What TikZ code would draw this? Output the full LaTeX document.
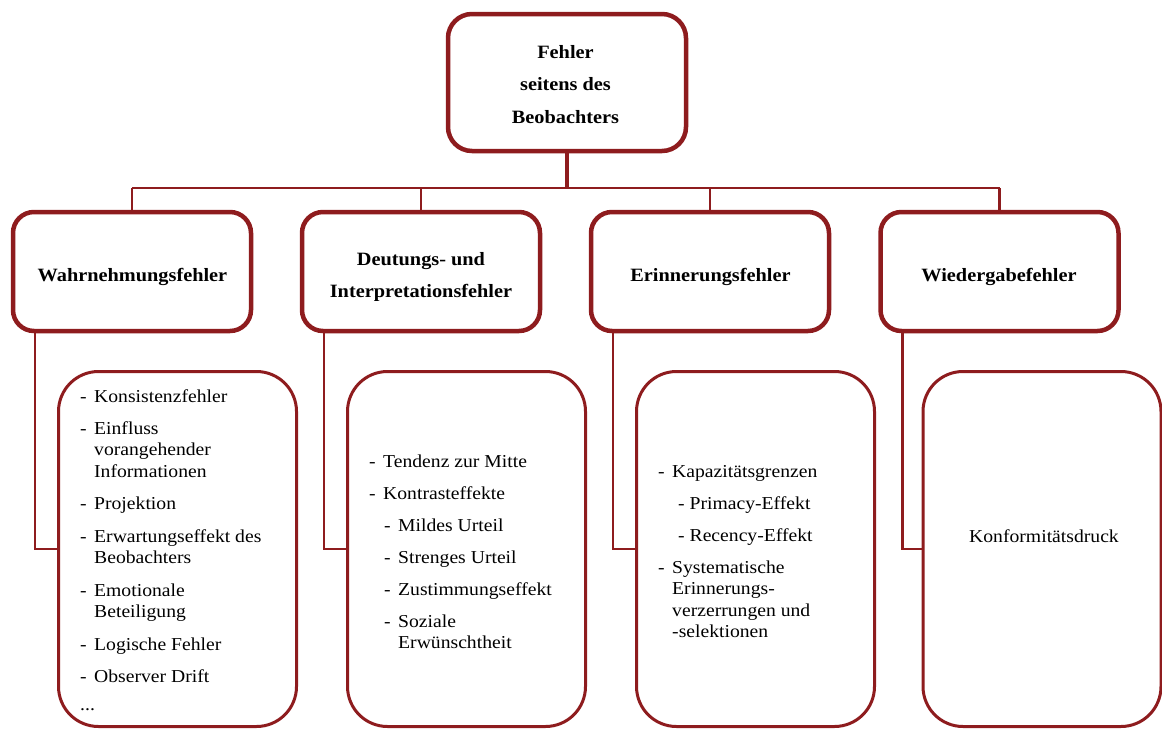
\documentclass[tikz,border=0pt]{standalone}
\usepackage{fontspec}
\setmainfont{Liberation Serif}[FakeStretch=1.08]
\definecolor{frame}{RGB}{142,28,30}

\tikzset{
  headbox/.style={draw=frame, line width=4.5pt, rounded corners=24pt, fill=white,
    minimum width=238pt, minimum height=137pt, inner sep=0pt},
  catbox/.style={draw=frame, line width=4.5pt, rounded corners=21pt, fill=white,
    minimum width=238pt, minimum height=119pt, inner sep=0pt},
  listbox/.style={draw=frame, line width=3pt, rounded corners=40pt, fill=white,
    minimum width=238pt, minimum height=355pt, inner sep=0pt},
  link/.style={draw=frame, line width=2.5pt},
  trunk/.style={draw=frame, line width=3.2pt},
  ttl/.style={inner sep=0pt, anchor=base, font=\bfseries\fontsize{18.8}{22}\selectfont},
  txt/.style={inner sep=0pt, anchor=base west, font=\fontsize{18.2}{22}\selectfont},
}
\newcommand\dash[1]{\makebox[#1][l]{-}}

\begin{document}
\begin{tikzpicture}[x=1pt,y=-1pt]
\useasboundingbox (0,0) rectangle (1162,731);

% root
\node[headbox] (root) at (567,82.5) {};
\node[ttl] (root-a) at (565.5,58) {Fehler};
\node[ttl] (root-b) at (565.5,90.5) {seitens des};
\node[ttl] (root-c) at (565.5,123) {Beobachters};

% categories
\node[catbox] (cat1) at (132,271.5) {};
\node[catbox] (cat2) at (421,271.5) {};
\node[catbox] (cat3) at (710,271.5) {};
\node[catbox] (cat4) at (999.5,271.5) {};
\node[ttl] (cat1-a) at (132.5,281) {Wahrnehmungsfehler};
\node[ttl] (cat2-a) at (421,265) {Deutungs- und};
\node[ttl] (cat2-b) at (421,297) {Interpretationsfehler};
\node[ttl] (cat3-a) at (710.5,281) {Erinnerungsfehler};
\node[ttl] (cat4-a) at (999,281) {Wiedergabefehler};

% detail lists
\node[listbox] (list1) at (177.5,549) {};
\node[listbox] (list2) at (466.5,549) {};
\node[listbox] (list3) at (755.5,549) {};
\node[listbox] (list4) at (1042,549) {};

% list 1
\node[txt] (l1-1) at (80,402) {\dash{14pt}Konsistenzfehler};
\node[txt] (l1-2) at (80,434) {\dash{14pt}Einfluss};
\node[txt] (l1-3) at (94,455.5) {vorangehender};
\node[txt] (l1-4) at (94,477) {Informationen};
\node[txt] (l1-5) at (80,509.5) {\dash{14pt}Projektion};
\node[txt] (l1-6) at (80,542) {\dash{14pt}Erwartungseffekt des};
\node[txt] (l1-7) at (94,563.5) {Beobachters};
\node[txt] (l1-8) at (80,596) {\dash{14pt}Emotionale};
\node[txt] (l1-9) at (94,617.5) {Beteiligung};
\node[txt] (l1-10) at (80,650) {\dash{14pt}Logische Fehler};
\node[txt] (l1-11) at (80,682.5) {\dash{14pt}Observer Drift};
\node[txt] (l1-12) at (80,710) {...};

% list 2
\node[txt] (l2-1) at (369,467) {\dash{14pt}Tendenz zur Mitte};
\node[txt] (l2-2) at (369,499) {\dash{14pt}Kontrasteffekte};
\node[txt] (l2-3) at (384,531) {\dash{14pt}Mildes Urteil};
\node[txt] (l2-4) at (384,563) {\dash{14pt}Strenges Urteil};
\node[txt] (l2-5) at (384,595) {\dash{14pt}Zustimmungseffekt};
\node[txt] (l2-6) at (384,627) {\dash{14pt}Soziale};
\node[txt] (l2-7) at (398,648.5) {Erwünschtheit};

% list 3
\node[txt] (l3-1) at (658,477) {\dash{14pt}Kapazitätsgrenzen};
\node[txt] (l3-2) at (678,509) {- Primacy-Effekt};
\node[txt] (l3-3) at (678,541) {- Recency-Effekt};
\node[txt] (l3-4) at (658,573) {\dash{14pt}Systematische};
\node[txt] (l3-5) at (672,594.5) {Erinnerungs-};
\node[txt] (l3-6) at (672,616) {verzerrungen und};
\node[txt] (l3-7) at (672,637.5) {-selektionen};

% list 4
\node[txt, anchor=base] (l4-1) at (1044,542) {Konformitätsdruck};

% connectors
\coordinate (bus) at (566,188);
\draw[trunk] (root.south) -- (root.south |- bus);
\draw[link] (cat1.north |- bus) -- (cat4.north |- bus);
\foreach \i in {1,...,4}
  \draw[link] (cat\i.north |- bus) -- (cat\i.north);
\foreach \i in {1,...,4}
  \draw[link] ([xshift=24pt]cat\i.south west) |- (list\i.west);
\end{tikzpicture}
\end{document}
